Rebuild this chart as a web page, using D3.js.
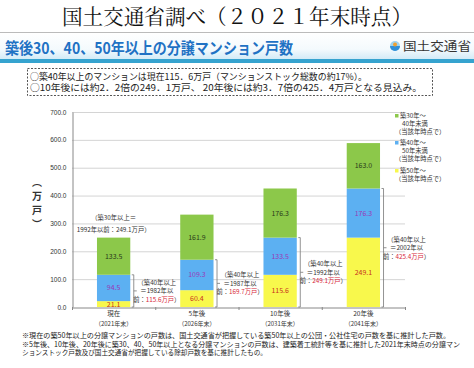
<!DOCTYPE html>
<html>
<head>
<meta charset="utf-8">
<script src="https://cdn.jsdelivr.net/npm/d3@7"></script>
<style>
  html, body { margin: 0; padding: 0; background: #fff; }
  svg { display: block; font-family: 'Noto Sans CJK JP', 'Noto Sans', sans-serif; }
</style>
</head>
<body>
<div id="chart"></div>
<script>
const categories = ['現在', '5年後', '10年後', '20年後']
const yearLabels = ['（2021年末）', '（2026年末）', '（2031年末）', '（2041年末）']
const over50 = [21.1, 60.4, 115.6, 249.1]
const age40to50 = [94.5, 109.3, 133.5, 176.3]
const age30to40 = [133.5, 161.9, 176.3, 163.0]
const over40Total = [115.6, 169.7, 249.1, 425.4]
const cutoffYears = [1982, 1987, 1992, 2002]
const yTicks = [0, 100, 200, 300, 400, 500, 600, 700]
const legendItems = [
  { key: 'age30to40', lines: ['築30年～', '40年未満', '（当該年時点で）'] },
  { key: 'age40to50', lines: ['築40年～', '50年未満', '（当該年時点で）'] },
  { key: 'over50', lines: ['築50年～', '（当該年時点で）'] },
]

const width = 474
const height = 368

const colors = {
  over50: '#f8f84c',
  age40to50: '#5cb0f2',
  age30to40: '#8cc84a',
}
const labelColors = {
  over50: '#c8321e',
  age40to50: '#9a3ab8',
  age30to40: '#2a3a1a',
}

const svg = d3
  .select('#chart')
  .append('svg')
  .attr('width', width)
  .attr('height', height)
  .attr('viewBox', `0 0 ${width} ${height}`)

// page title
svg
  .append('text')
  .attr('x', 237)
  .attr('y', 24)
  .attr('text-anchor', 'middle')
  .attr('font-size', 21)
  .attr('font-family', "'Noto Serif CJK JP', 'DejaVu Serif', serif")
  .attr('textLength', 350)
  .attr('lengthAdjust', 'spacingAndGlyphs')
  .attr('fill', '#111')
  .text('国土交通省調べ（２０２１年末時点）')

// header band
const defs = svg.append('defs')
const grad = defs
  .append('linearGradient')
  .attr('id', 'band')
  .attr('x1', 0)
  .attr('y1', 0)
  .attr('x2', 0)
  .attr('y2', 1)
grad.append('stop').attr('offset', '0%').attr('stop-color', '#ffffff')
grad.append('stop').attr('offset', '60%').attr('stop-color', '#f4fafd')
grad.append('stop').attr('offset', '100%').attr('stop-color', '#cfe9f6')

svg.append('rect').attr('x', 0).attr('y', 33).attr('width', width).attr('height', 27).attr('fill', 'url(#band)')
svg.append('line').attr('x1', 0).attr('x2', width).attr('y1', 32.5).attr('y2', 32.5).attr('stroke', '#bbb')
svg.append('rect').attr('x', 0).attr('y', 59).attr('width', width).attr('height', 4).attr('fill', '#35a3cf')

svg
  .append('text')
  .attr('x', 5)
  .attr('y', 54)
  .attr('font-size', 16)
  .attr('font-weight', 'bold')
  .attr('textLength', 288)
  .attr('lengthAdjust', 'spacingAndGlyphs')
  .attr('fill', '#1f72c4')
  .text('築後30、40、50年以上の分譲マンション戸数')

// ministry logo
const logo = svg.append('g').attr('transform', 'translate(395, 46)')
logo.append('circle').attr('r', 5).attr('fill', '#9fd3f0')
logo.append('path').attr('d', 'M-5,0 A5,5 0 0,0 5,0 Z').attr('fill', '#2f8fd8')
logo.append('circle').attr('cy', -1.5).attr('r', 2).attr('fill', '#f0a030')
svg
  .append('text')
  .attr('x', 403)
  .attr('y', 51)
  .attr('font-size', 12)
  .attr('textLength', 68)
  .attr('lengthAdjust', 'spacingAndGlyphs')
  .attr('fill', '#333')
  .text('国土交通省')

// summary box
svg
  .append('rect')
  .attr('x', 27.5)
  .attr('y', 68.5)
  .attr('width', 405)
  .attr('height', 27)
  .attr('fill', 'none')
  .attr('stroke', '#555')
  .attr('stroke-dasharray', '2,1.5')

const summary = [
  ['○築40年以上のマンションは現在115．6万戸（マンションストック総数の約17%）。', 337],
  ['○10年後には約2．2倍の249．1万戸、 20年後には約3．7倍の425．4万戸となる見込み。', 392],
]
svg
  .append('g')
  .selectAll('text')
  .data(summary)
  .enter()
  .append('text')
  .attr('x', 30)
  .attr('y', (d, i) => 79.5 + i * 11.5)
  .attr('font-size', 9)
  .attr('textLength', (d) => d[1])
  .attr('lengthAdjust', 'spacingAndGlyphs')
  .attr('fill', '#222')
  .text((d) => d[0])

// scales
const x = d3
  .scaleBand()
  .domain(categories)
  .range([72, 405])
  .paddingInner(0.6)
  .paddingOuter(0.3)

const y = d3.scaleLinear().domain([0, 700]).range([307, 112])

const g = svg.append('g')

// grid
g.append('g')
  .selectAll('line')
  .data(yTicks.filter((d) => d > 0))
  .enter()
  .append('line')
  .attr('x1', 72)
  .attr('x2', 405)
  .attr('y1', (d) => y(d) + 0.5)
  .attr('y2', (d) => y(d) + 0.5)
  .attr('stroke', '#d4d4d4')

// y axis
const yAxis = g
  .append('g')
  .attr('transform', 'translate(72.5,0)')
  .call(d3.axisLeft(y).tickValues(yTicks).tickSize(0).tickPadding(6).tickFormat(d3.format('.1f')))
yAxis.select('.domain').attr('stroke', '#888')
yAxis.selectAll('text').attr('font-size', 6.5).attr('fill', '#333')

// x axis
const xAxis = g
  .append('g')
  .attr('transform', 'translate(0,307.5)')
  .call(d3.axisBottom(x).tickSize(0).tickFormat(''))
xAxis.select('.domain').attr('stroke', '#888')

// small separators between categories
g.append('g')
  .selectAll('line')
  .data(d3.range(5))
  .enter()
  .append('line')
  .attr('x1', (d) => 72.5 + d * x.step())
  .attr('x2', (d) => 72.5 + d * x.step())
  .attr('y1', 307)
  .attr('y2', 310)
  .attr('stroke', '#888')

const xLabels = g.append('g')
categories.forEach((c, i) => {
  const cx = x(c) + x.bandwidth() / 2
  xLabels
    .append('text')
    .attr('x', cx)
    .attr('y', 316)
    .attr('text-anchor', 'middle')
    .attr('font-size', 6.5)
    .attr('fill', '#333')
    .text(c)
  xLabels
    .append('text')
    .attr('x', cx)
    .attr('y', 326)
    .attr('text-anchor', 'middle')
    .attr('font-size', 6)
    .attr('fill', '#333')
    .text(yearLabels[i])
})

// y axis title, vertical
const yTitle = ['︵', '万', '戸', '︶']
g.append('g')
  .selectAll('text')
  .data(yTitle)
  .enter()
  .append('text')
  .attr('x', 37)
  .attr('y', (d, i) => 186 + i * 14)
  .attr('text-anchor', 'middle')
  .attr('font-size', 10)
  .attr('font-weight', 'bold')
  .attr('fill', '#333')
  .text((d) => d)

// stacked bars
const keys = ['over50', 'age40to50', 'age30to40']
const rows = categories.map((c, i) => ({
  category: c,
  over50: over50[i],
  age40to50: age40to50[i],
  age30to40: age30to40[i],
}))
const stacked = d3.stack().keys(keys)(rows)

const layers = g
  .append('g')
  .selectAll('g')
  .data(stacked)
  .enter()
  .append('g')

layers
  .selectAll('rect')
  .data((d) => d.map((v) => Object.assign(v, { key: d.key })))
  .enter()
  .append('rect')
  .attr('x', (d) => x(d.data.category))
  .attr('y', (d) => y(d[1]))
  .attr('width', x.bandwidth())
  .attr('height', (d) => y(d[0]) - y(d[1]))
  .attr('fill', (d) => colors[d.key])

layers
  .selectAll('text')
  .data((d) => d)
  .enter()
  .append('text')
  .attr('x', (d) => x(d.data.category) + x.bandwidth() / 2)
  .attr('y', (d) => (y(d[0]) + y(d[1])) / 2 + 2.5)
  .attr('text-anchor', 'middle')
  .attr('font-size', 7)
  .attr('fill', (d) => labelColors[d.key])
  .text((d) => d3.format('.1f')(d.data[d.key]))

// brackets for the 40+ total
const brackets = g.append('g')
categories.forEach((c, i) => {
  const bx = x(c) + x.bandwidth() + 3.5
  const top = y(over40Total[i])
  const bottom = y(0)
  const mid = (top + bottom) / 2
  brackets
    .append('path')
    .attr('d', `M${bx - 2},${top}H${bx}V${bottom}H${bx - 2}M${bx},${mid}H${bx + 3}`)
    .attr('fill', 'none')
    .attr('stroke', '#777')
    .attr('stroke-width', 0.8)

  const tx = bx + 23
  const note = brackets.append('text').attr('text-anchor', 'middle').attr('font-size', 6.3).attr('fill', '#333')
  note.append('tspan').attr('x', tx).attr('y', mid - 6).text('（築40年以上')
  note.append('tspan').attr('x', tx).attr('y', mid + 2.5).text(`＝${cutoffYears[i]}年以`)
  const last = note.append('tspan').attr('x', tx).attr('y', mid + 11).text('前：')
  last.append('tspan').attr('fill', '#d8283a').text(`${d3.format('.1f')(over40Total[i])}万戸`)
  last.append('tspan').text('）')
})

// 30+ total above the first bar
const firstTotal = over50[0] + age40to50[0] + age30to40[0]
const topNote = g
  .append('text')
  .attr('text-anchor', 'middle')
  .attr('font-size', 6.3)
  .attr('fill', '#333')
const cx0 = x(categories[0]) + x.bandwidth() / 2
topNote.append('tspan').attr('x', cx0).attr('y', y(firstTotal) - 18).text('（築30年以上＝')
topNote
  .append('tspan')
  .attr('x', cx0)
  .attr('y', y(firstTotal) - 6)
  .text(`1992年以前：${d3.format('.1f')(firstTotal)}万戸）`)

// legend
const legend = g.append('g').attr('transform', 'translate(395,0)')
const legendTops = [118, 145, 173]
legendItems.forEach((item, i) => {
  const top = legendTops[i]
  legend
    .append('rect')
    .attr('x', 0)
    .attr('y', top - 4)
    .attr('width', 3.5)
    .attr('height', 3.5)
    .attr('fill', colors[item.key])
  item.lines.forEach((line, j) => {
    legend
      .append('text')
      .attr('x', j === 0 ? 5 : line.startsWith('（') ? 0 : 7)
      .attr('y', top + j * 8)
      .attr('font-size', 6.3)
      .attr('fill', '#333')
      .text(line)
  })
})

// footnotes
const notes = [
  ['※現在の築50年以上の分譲マンションの戸数は、国土交通省が把握している築50年以上の公団・公社住宅の戸数を基に推計した戸数。', 428],
  ['※5年後、10年後、20年後に築30、40、50年以上となる分譲マンションの戸数は、建築着工統計等を基に推計した2021年末時点の分譲マン', 438],
  ['ションストック戸数及び国土交通省が把握している除却戸数を基に推計したもの。', 245],
]
svg
  .append('g')
  .selectAll('text')
  .data(notes)
  .enter()
  .append('text')
  .attr('x', 22)
  .attr('y', (d, i) => 338 + i * 8.5)
  .attr('font-size', 7.2)
  .attr('textLength', (d) => d[1])
  .attr('lengthAdjust', 'spacingAndGlyphs')
  .attr('fill', '#222')
  .text((d) => d[0])
</script>
</body>
</html>
